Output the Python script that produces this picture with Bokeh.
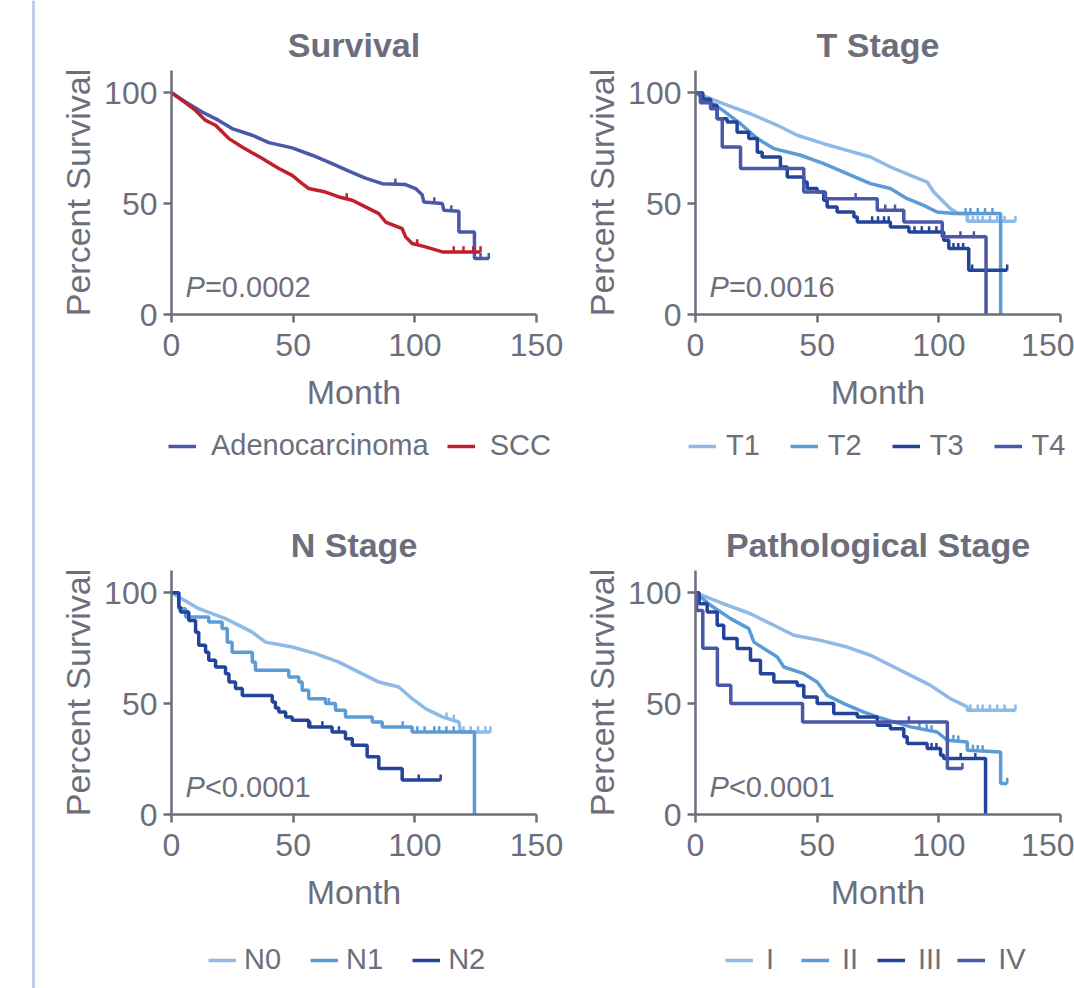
import numpy as np
from bokeh.plotting import figure
from bokeh.models import Range1d, FixedTicker, Legend, LegendItem, Label, Span, ColumnDataSource
from bokeh.layouts import row, column
from bokeh.transform import dodge
from bokeh.embed import file_html
from bokeh.resources import INLINE

# ---------------- data ----------------
titles = ["Survival", "T Stage", "N Stage", "Pathological Stage"]
p_signs = ["=0.0002", "=0.0016", "<0.0001", "<0.0001"]
x_ticks = [0, 50, 100, 150]
y_ticks = [0, 50, 100]
x_label = "Month"
y_label = "Percent Survival"

# Survival by histology (dense curves -> polyline of read points)
adeno_t = [0, 5.8, 12.6, 19.4, 24.9, 33.2, 40, 49.6, 57.8, 66, 74.3, 79.7, 86.6, 96.2, 100.3, 103.0, 103.7, 111.3, 111.9, 118.1, 118.1, 124.5, 124.5, 130.4]
adeno_s = [100, 95.8, 91.3, 87.5, 83.8, 80.8, 77.5, 75.1, 71.8, 68, 64, 61.5, 59, 58.6, 56.8, 54, 50.7, 50, 47, 46.5, 37.2, 37.2, 25.2, 25.2]
adeno_c = [92, 108, 115, 127, 130.4]
scc_t = [0, 4.4, 9.9, 14, 18.1, 23.6, 29, 37.3, 44.1, 49.6, 53.7, 56.4, 63.3, 68.8, 74.3, 79.7, 85.2, 88, 94.8, 96.2, 98.9, 104.4, 111.3, 127]
scc_s = [100, 96.5, 92, 87.5, 85.3, 79.3, 75.5, 70.3, 65.8, 62.7, 59, 56.8, 55.2, 53, 51.5, 48.5, 45.5, 41.7, 38.7, 35, 32, 30.5, 28.2, 28.2]
scc_c = [72, 101, 116, 120, 124, 127]

# T stage
t1_t = [0, 11.6, 22.6, 33.6, 41.8, 52.7, 62.3, 71.9, 80.1, 88.4, 95.2, 97.9, 104.8, 108, 111.7, 111.7, 131.5]
t1_s = [100, 95, 90.5, 85.3, 80.8, 77, 74, 71, 66.5, 62.7, 59.7, 55.2, 47.7, 45.5, 45.5, 42, 42]
t1_c = [114, 116, 118, 121, 124, 127, 131.5]
t2_t = [0, 10.3, 18.5, 25.4, 32.2, 43.2, 52.7, 62.3, 71.9, 80.1, 87, 93.8, 99.3, 106.2, 125.4, 125.4]
t2_s = [100, 92.8, 86, 79.3, 74.8, 71.8, 68, 63.5, 59, 56.8, 52.2, 49.2, 46.2, 45.5, 45.5, 0]
t2_c = [111, 113, 116, 119, 122]
t3_t = [0, 3, 6.2, 8.9, 13, 17.1, 21.9, 25.4, 27.4, 34.9, 37.7, 44.5, 45.9, 50, 52.7, 54.1, 58.2, 65.1, 66.5, 80.1, 87.7, 102, 104.1, 112.3, 128.1]
t3_s = [100, 97, 94.3, 88.3, 86.8, 82.2, 79.3, 73.2, 71, 66.5, 62, 59.7, 56.8, 55.2, 51.5, 48.5, 46.2, 44, 41.7, 39.5, 37.2, 33.5, 29.7, 20, 20]
t3_c = [72.6, 75, 77.5, 79.4, 90, 93, 96, 99, 106, 108, 110, 113.7, 128.1]
t4_t = [0, 2, 6.2, 8.9, 11, 18.5, 44.5, 53.4, 74.7, 85.6, 101.4, 119.4]
t4_s = [100, 95.5, 92.8, 88.3, 75.5, 65.8, 55.2, 52.2, 47, 41.7, 35, 0]
t4_c = [65.8, 78, 82, 108.9, 114.4]

# N stage
n0_t = [0, 11.2, 22.2, 33.2, 38.6, 49.6, 59.2, 68.8, 77, 85.2, 93.4, 98.9, 104.4, 111.3, 118.1, 118.8, 131.1]
n0_s = [100, 92.8, 88.3, 82.2, 77.7, 75.5, 72.5, 68.7, 64.2, 59.7, 57.5, 52.2, 47.7, 44, 41.7, 37.2, 37.2]
n0_c = [113, 116, 120, 123, 126, 129, 131.1]
n1_t = [0, 3, 5.8, 15.3, 20.8, 22.9, 24.9, 33.2, 34.5, 48.2, 52.3, 53.7, 56.4, 63.3, 67.4, 71.5, 82.5, 86.6, 98.9, 124.5]
n1_s = [100, 92.8, 89, 86.8, 83.8, 77.7, 73.2, 68.7, 65, 62, 59.7, 56, 52.2, 50, 47, 44, 41.7, 39.5, 37.2, 0]
n1_c = [64.7, 95, 101, 104, 108, 110, 113, 116]
n2_t = [0, 3, 3.7, 7.1, 9.9, 11.2, 14, 15.3, 18.1, 22.2, 23.6, 26.3, 29.1, 41.4, 42.7, 44.1, 46.9, 49.6, 56.4, 66, 71.5, 74.3, 80.4, 85.2, 94.8, 110.6]
n2_s = [100, 93.5, 91.3, 87.5, 82.2, 76.3, 73.2, 69.5, 66.5, 63.5, 59.7, 56.8, 53.7, 50.7, 48, 46.2, 44, 42.5, 39.5, 37.2, 34.2, 31.2, 26, 20.7, 15.5, 15.5]
n2_c = [57, 62, 68.8, 101.6, 110.6]

# Pathological stage
s1_t = [0, 11.6, 22.6, 32.2, 40.4, 51.4, 62.3, 71.9, 80.1, 88.4, 96.6, 104.8, 111.7, 111.7, 131.5]
s1_s = [100, 95, 90.5, 85.3, 80.8, 78.5, 75.5, 71.8, 67.3, 62.7, 58.2, 52.2, 48.5, 47, 47]
s1_c = [113, 116, 118, 121, 124, 127, 131.5]
s2_t = [0, 6.2, 14.4, 21.9, 24, 28.1, 33.6, 36.3, 44.5, 50, 54.1, 61, 69.2, 74.7, 88.4, 99.3, 103.4, 111.7, 111.7, 125.4, 125.4, 128.1]
s2_s = [100, 94.3, 88.3, 83.8, 77.7, 74.8, 71, 66.5, 63.5, 59.7, 53.7, 50, 46.2, 44, 39.5, 37.2, 33.5, 32.7, 29, 28.2, 14, 14]
s2_c = [92, 95, 97, 106, 108, 114, 116, 118, 128.1]
s3_t = [0, 1.5, 4.8, 8.9, 11.6, 17.1, 22.6, 26.7, 32.2, 41.8, 44.5, 50, 56.8, 66.5, 74.7, 80.1, 85.6, 87, 95.2, 100.7, 102, 119.2]
s3_s = [100, 95, 91.3, 85.3, 79.3, 74.8, 69.5, 63.5, 59.7, 58.2, 53, 50, 45.5, 44, 40.2, 38.7, 35, 32, 29.7, 26.7, 25.2, 0]
s3_c = [97, 99, 109, 115]
s4_t = [0, 0.5, 3, 9, 14.5, 44, 103.5, 109.7]
s4_s = [100, 92, 75, 58.3, 50, 41.7, 20.7, 20.7]
s4_c = [87.7, 109.7]

# ---------------- styling ----------------
GRAY = "#6d6e7c"
FONT = "Liberation Sans"
C_ADENO = "#4a58a8"
C_SCC = "#c0202b"
C_LIGHT = "#8dbae6"
C_MED = "#5b9bd6"
C_DARK = "#24439b"
C_SLATE = "#4a58a8"

panels = [
    [("Adenocarcinoma", adeno_t, adeno_s, adeno_c, C_ADENO, "line"),
     ("SCC", scc_t, scc_s, scc_c, C_SCC, "line")],
    [("T1", t1_t, t1_s, t1_c, C_LIGHT, "line"),
     ("T2", t2_t, t2_s, t2_c, C_MED, "line"),
     ("T3", t3_t, t3_s, t3_c, C_DARK, "step"),
     ("T4", t4_t, t4_s, t4_c, C_SLATE, "step")],
    [("N0", n0_t, n0_s, n0_c, C_LIGHT, "line"),
     ("N1", n1_t, n1_s, n1_c, C_MED, "step"),
     ("N2", n2_t, n2_s, n2_c, C_DARK, "step")],
    [("I", s1_t, s1_s, s1_c, C_LIGHT, "line"),
     ("II", s2_t, s2_s, s2_c, C_MED, "line"),
     ("III", s3_t, s3_s, s3_c, C_DARK, "step"),
     ("IV", s4_t, s4_s, s4_c, C_SLATE, "step")],
]
fig_w = [528, 509, 528, 509]
fig_left = [134, 130, 134, 130]
plot_h = 426
leg_h = [74, 74, 62, 62]
leg_loc = [(131, 38), (123, 38), (171, 12), (160, 12)]
leg_standoff = [15, 10, 8, 13]
leg_spacing = [18, 30, 29, 15]
LW = 3.5


def value_at(t, s, kind, c):
    t = np.asarray(t, float); s = np.asarray(s, float); c = np.asarray(c, float)
    if kind == "line":
        return np.interp(c, t, s)
    idx = np.searchsorted(t, c, side="right") - 1
    idx = np.clip(idx, 0, len(s) - 1)
    return s[idx]


def make_panel(i):
    w, left = fig_w[i], fig_left[i]
    frame_w, frame_h, top = 365, 244, 70
    p = figure(width=w, height=plot_h, output_backend="svg", toolbar_location=None,
               x_range=Range1d(0, 150), y_range=Range1d(0, 110),
               min_border_left=left, min_border_right=w - left - frame_w,
               min_border_top=top, min_border_bottom=plot_h - top - frame_h)
    p.outline_line_color = None
    p.grid.visible = False
    p.frame_align = False

    p.title.text = titles[i]
    p.title.align = "center"
    p.title.text_font = FONT
    p.title.text_font_size = "34px"
    p.title.text_font_style = "bold"
    p.title.text_color = GRAY
    p.title.standoff = 13

    for ax in (p.xaxis[0], p.yaxis[0]):
        ax.axis_line_color = GRAY
        ax.axis_line_width = 2.5
        ax.major_tick_line_color = GRAY
        ax.major_tick_line_width = 2.5
        ax.major_tick_in = 0
        ax.major_tick_out = 8
        ax.minor_tick_line_color = None
        ax.major_label_text_font = FONT
        ax.major_label_text_font_size = "32px"
        ax.major_label_text_color = GRAY
        ax.axis_label_text_font = FONT
        ax.axis_label_text_font_size = "34px"
        ax.axis_label_text_font_style = "normal"
        ax.axis_label_text_color = GRAY
    p.xaxis.ticker = FixedTicker(ticks=x_ticks)
    p.yaxis.ticker = FixedTicker(ticks=y_ticks)
    p.xaxis.axis_label = x_label
    p.yaxis.axis_label = y_label
    p.xaxis.major_label_standoff = 11
    p.yaxis.major_label_standoff = 6
    p.xaxis.axis_label_standoff = 14
    p.yaxis.axis_label_standoff = 4

    # legend lives in its own strip under the plot; its ranges keep the series out of view
    lf = figure(width=w, height=leg_h[i], output_backend="svg", toolbar_location=None,
                x_range=Range1d(1000, 1001), y_range=Range1d(1000, 1001), min_border=0)
    lf.axis.visible = False
    lf.grid.visible = False
    lf.outline_line_color = None
    lf.frame_align = False

    items = []
    for name, t, s, c, color, kind in panels[i]:
        src = ColumnDataSource(dict(x=list(c), y=list(value_at(t, s, kind, c))))
        if kind == "line":
            p.line(t, s, line_color=color, line_width=LW)
            lr = lf.line(t, s, line_color=color, line_width=LW)
        else:
            p.step(t, s, mode="after", line_color=color, line_width=LW)
            lr = lf.step(t, s, mode="after", line_color=color, line_width=LW)
        p.scatter(x="x", y=dodge("y", 1.2), source=src, marker="dash", angle=np.pi / 2,
                  size=6, line_color=color, line_width=2.5)
        lm = lf.scatter(x="x", y="y", source=src, marker="dash", angle=np.pi / 2,
                        size=10, line_color=color, line_width=3)
        items.append(LegendItem(label=name, renderers=[lr, lm]))

    lg = Legend(items=items, orientation="horizontal", location=leg_loc[i],
                border_line_color=None, background_fill_alpha=0,
                label_text_font=FONT, label_text_font_size="29px", label_text_color=GRAY,
                glyph_width=28, glyph_height=26, label_standoff=leg_standoff[i],
                spacing=leg_spacing[i], padding=0, margin=0)
    lf.add_layout(lg, "center")

    p.add_layout(Label(x=5.8, y=5.3, text="P", text_font=FONT, text_font_size="29px",
                       text_font_style="italic", text_color=GRAY, text_baseline="bottom"))
    p.add_layout(Label(x=5.8, y=5.3, x_offset=19.3, text=p_signs[i], text_font=FONT,
                       text_font_size="29px", text_color=GRAY, text_baseline="bottom"))
    return column(p, lf)


panes = [make_panel(i) for i in range(4)]

side = figure(width=37, height=988, output_backend="svg", toolbar_location=None,
              x_range=Range1d(0, 37), y_range=Range1d(0, 1), min_border=0)
side.axis.visible = False
side.grid.visible = False
side.outline_line_color = None
side.frame_align = False
side.add_layout(Span(location=33, dimension="height", line_color="#c4cce8", line_width=3))

layout = row(side, column(row(panes[0], panes[1]), row(panes[2], panes[3])))

open("out.html", "w").write(file_html(layout, INLINE))
